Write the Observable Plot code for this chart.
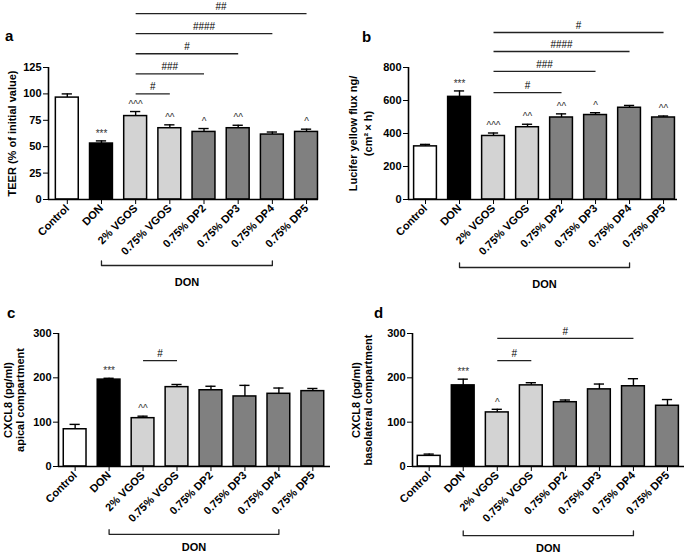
<!DOCTYPE html>
<html><head><meta charset="utf-8">
<script src="https://cdn.jsdelivr.net/npm/d3@7"></script>
<script src="https://cdn.jsdelivr.net/npm/@observablehq/plot@0.6"></script>
<style>
body{margin:0;background:#fff;}
#fig{position:relative;width:685px;height:553px;font-family:"Liberation Sans",Arial,sans-serif;overflow:hidden;background:#fff;}
.panel{position:absolute;}
.panel svg{overflow:visible;max-width:none!important;}
.panel svg [aria-label$="axis"] line{stroke-width:1.4;}
.letter{position:absolute;font-weight:bold;font-size:15px;line-height:15px;}
</style></head><body><div id="fig"></div>
<script>
// shared categories and styles
const categories = ["Control","DON","2% VGOS","0.75% VGOS","0.75% DP2","0.75% DP3","0.75% DP4","0.75% DP5"];
const barFills = ["#ffffff","#000000","#d3d3d3","#d3d3d3","#808080","#808080","#808080","#808080"];

// panel a: TEER
const teerMean = [96.5, 53, 79, 67.5, 64, 67.5, 61.5, 64];
const teerSem  = [3.5, 2.5, 4.3, 3.2, 3.2, 2.8, 2.4, 2.6];
const teerStars = ["", "***", "^^^", "^^", "^", "^^", "", "^"];
const teerSigFrom = ["2% VGOS","2% VGOS","2% VGOS","2% VGOS","2% VGOS"];
const teerSigTo = ["0.75% VGOS","0.75% DP2","0.75% DP3","0.75% DP4","0.75% DP5"];
const teerSigLabel = ["#","###","#","####","##"];
const teerSigLevel = [100, 119, 138, 157, 176];
const teerTicks = [0, 25, 50, 75, 100, 125];

// panel b: Lucifer yellow flux
const lyMean = [322, 622, 385, 438, 497, 512, 556, 497];
const lySem  = [12, 36, 18, 18, 22, 14, 14, 9];
const lyStars = ["", "***", "^^^", "^^", "^^", "^", "", "^^"];
const lySigFrom = ["2% VGOS","2% VGOS","2% VGOS","2% VGOS"];
const lySigTo = ["0.75% DP2","0.75% DP3","0.75% DP4","0.75% DP5"];
const lySigLabel = ["#","###","####","#"];
const lySigLevel = [648, 776, 897, 1012];
const lyTicks = [0, 200, 400, 600, 800];

// panel c: CXCL8 apical
const apMean = [84, 196, 109, 179, 172, 158, 164, 170];
const apSem  = [11, 3, 4.5, 6, 9, 25, 13, 6];
const apStars = ["", "***", "^^", "", "", "", "", ""];
const apSigFrom = ["2% VGOS"];
const apSigTo = ["0.75% VGOS"];
const apSigLabel = ["#"];
const apSigLevel = [239];
const apTicks = [0, 100, 200, 300];

// panel d: CXCL8 basolateral
const baMean = [24, 183, 122, 183, 145, 174, 181, 137];
const baSem  = [4, 14, 7, 6, 5, 12, 17, 14];
const baStars = ["", "***", "^", "", "", "", "", ""];
const baSigFrom = ["2% VGOS","2% VGOS"];
const baSigTo = ["0.75% VGOS","0.75% DP4"];
const baSigLabel = ["#","#"];
const baSigLevel = [239, 289];
const cxTicks = [0, 100, 200, 300];

const bracketFrom = "DON", bracketTo = "0.75% DP4", bracketLabel = "DON";

function panel(cfg) {
  const idx = c => categories.indexOf(c);
  const data = categories.map((c, i) => ({i, c, mean: cfg.mean[i], sem: cfg.sem[i], top: cfg.mean[i] + cfg.sem[i], star: cfg.stars[i], fill: barFills[i]}));
  const sig = cfg.sigFrom.map((f, k) => ({a: idx(f), b: idx(cfg.sigTo[k]), label: cfg.sigLabel[k], level: cfg.sigLevel[k]}));
  const ymax = cfg.ticks[cfg.ticks.length - 1];
  const bY = cfg.bracket * ymax, bE = 0.035 * ymax;
  const b0 = idx(bracketFrom), b1 = idx(bracketTo);
  const bracketPts = [{x: b0, y: bY + bE}, {x: b0, y: bY}, {x: b1, y: bY}, {x: b1, y: bY + bE}];
  const barHalf = 0.335, capHalf = 0.15;
  return Plot.plot({
    width: cfg.width, height: cfg.height,
    marginLeft: cfg.ml, marginRight: cfg.mr, marginTop: cfg.mt, marginBottom: cfg.mb,
    style: {fontFamily: "'Liberation Sans', Arial, sans-serif", fontSize: "11px", fontWeight: "bold", color: "#000", background: "transparent", overflow: "visible"},
    color: {type: "identity"},
    x: {type: "linear", domain: cfg.xdom, ticks: categories.map((c, i) => i), tickFormat: i => categories[i], tickRotate: -45, tickSize: 5, tickPadding: 2, label: null},
    y: {domain: [0, ymax], ticks: cfg.ticks, tickSize: 5, tickPadding: 2, label: null},
    marks: [
      Plot.ruleX(data, {x: "i", y1: "mean", y2: "top", stroke: "#000", strokeWidth: 1.4}),
      Plot.ruleY(data, {x1: d => d.i - capHalf, x2: d => d.i + capHalf, y: "top", stroke: "#000", strokeWidth: 1.4}),
      Plot.rect(data, {x1: d => d.i - barHalf, x2: d => d.i + barHalf, y1: 0, y2: "mean", fill: "fill", stroke: "#000", strokeWidth: 1.5}),
      Plot.ruleY([0], {stroke: "#000", strokeWidth: 1.6}),
      Plot.ruleX([cfg.xdom[0]], {y1: 0, y2: ymax, stroke: "#000", strokeWidth: 1.6}),
      Plot.text(data, {x: "i", y: "top", text: "star", dy: -7, fontSize: 10, fill: "#333", fontWeight: "normal"}),
      Plot.link(sig, {x1: "a", x2: "b", y1: "level", y2: "level", stroke: "#222", strokeWidth: 1.3}),
      Plot.text(sig, {x: d => (d.a + d.b) / 2, y: "level", text: "label", dy: -7, fontSize: 10, fontWeight: "normal"}),
      Plot.line(bracketPts, {x: "x", y: "y", stroke: "#222", strokeWidth: 1.3}),
      Plot.text([bracketLabel], {x: (b0 + b1) / 2, y: bY, text: d => d, dy: cfg.bdy, fontSize: 11}),
      Plot.text([cfg.ylabel], {x: cfg.xdom[0], y: ymax / 2, rotate: -90, text: d => d, dx: cfg.ldx, fontSize: 11, lineHeight: cfg.lh, textAnchor: "middle"})
    ]
  });
}

const panels = [
  {left: 0, top: 0, width: 342, height: 290, ml: 48, mr: 24, mt: 67, mb: 91, xdom: [-0.55, 7.35],
   mean: teerMean, sem: teerSem, stars: teerStars, sigFrom: teerSigFrom, sigTo: teerSigTo, sigLabel: teerSigLabel, sigLevel: teerSigLevel,
   ticks: teerTicks, bracket: -0.5, bdy: 17, ylabel: "TEER (% of initial value)", ldx: -36, lh: 1.1, letter: "a", lx: 5, ly: 28},
  {left: 345, top: 0, width: 340, height: 290, ml: 63, mr: 8, mt: 67, mb: 91, xdom: [-0.5, 7.41],
   mean: lyMean, sem: lySem, stars: lyStars, sigFrom: lySigFrom, sigTo: lySigTo, sigLabel: lySigLabel, sigLevel: lySigLevel,
   ticks: lyTicks, bracket: -0.515, bdy: 17, ylabel: "Lucifer yellow flux ng/\n(cm\u00b2\u2009\u00d7 h)", ldx: -49, lh: 1.4, letter: "b", lx: 362, ly: 29},
  {left: 0, top: 290, width: 342, height: 263, ml: 58, mr: 12, mt: 43, mb: 87, xdom: [-0.49, 7.52],
   mean: apMean, sem: apSem, stars: apStars, sigFrom: apSigFrom, sigTo: apSigTo, sigLabel: apSigLabel, sigLevel: apSigLevel,
   ticks: apTicks, bracket: -0.51, bdy: 13, ylabel: "CXCL8 (pg/ml)\napical compartment", ldx: -44, lh: 1.05, letter: "c", lx: 7, ly: 305},
  {left: 345, top: 290, width: 340, height: 263, ml: 67, mr: 1, mt: 43, mb: 87, xdom: [-0.49, 7.5],
   mean: baMean, sem: baSem, stars: baStars, sigFrom: baSigFrom, sigTo: baSigTo, sigLabel: baSigLabel, sigLevel: baSigLevel,
   ticks: cxTicks, bracket: -0.52, bdy: 13, ylabel: "CXCL8 (pg/ml)\nbasolateral compartment", ldx: -50, lh: 1.05, letter: "d", lx: 374, ly: 305}
];

const fig = document.getElementById("fig");
for (const cfg of panels) {
  const div = document.createElement("div");
  div.className = "panel";
  div.style.left = cfg.left + "px";
  div.style.top = cfg.top + "px";
  div.style.width = cfg.width + "px";
  div.style.height = cfg.height + "px";
  div.appendChild(panel(cfg));
  fig.appendChild(div);
  const l = document.createElement("div");
  l.className = "letter";
  l.style.left = cfg.lx + "px";
  l.style.top = cfg.ly + "px";
  l.textContent = cfg.letter;
  fig.appendChild(l);
}
</script></body></html>
